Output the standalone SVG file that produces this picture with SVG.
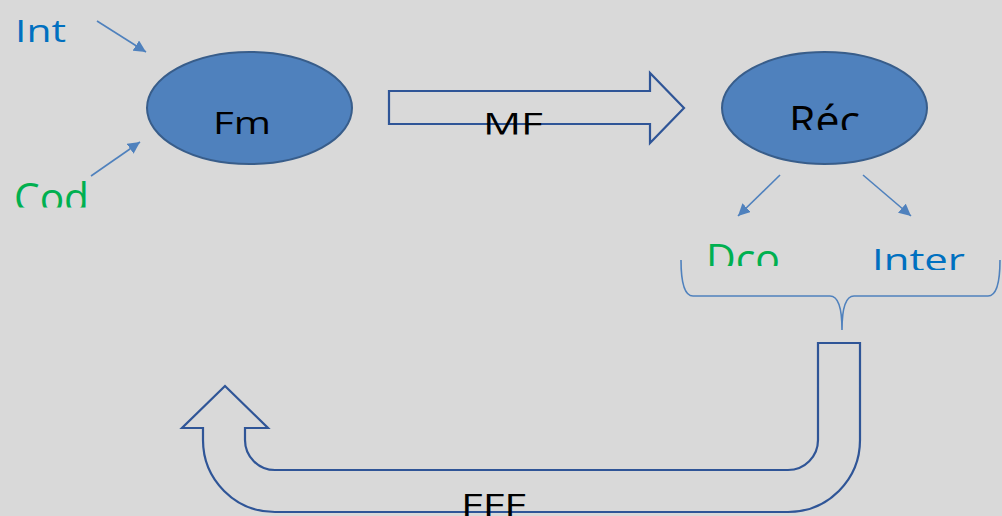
<svg xmlns="http://www.w3.org/2000/svg" width="1002" height="516" viewBox="0 0 1002 516">
<style>
.bg{fill:#d9d9d9}
.ell{fill:#4f81bd;stroke:#385d8a;stroke-width:2}
.blk{fill:none;stroke:#2f5597;stroke-width:2.2;stroke-linejoin:miter}
.con{stroke:#4f81bd;stroke-width:1.6;fill:none}
.brace{stroke:#4f81bd;stroke-width:1.6;fill:none}
text{font-family:"Open Sans","Noto Sans","Liberation Sans",sans-serif;font-size:31px}
.big{font-size:40px}
.k{fill:#000}
.b{fill:#0070c0}
.g{fill:#00b050}
</style>
<defs>
<marker id="ah" viewBox="0 0 10 10" refX="10" refY="5" markerWidth="12" markerHeight="12" markerUnits="userSpaceOnUse" orient="auto">
<path d="M0,0 L10,5 L0,10 Z" fill="#4f81bd"/>
</marker>
<clipPath id="cCod"><rect x="0" y="160" width="120" height="47.5"/></clipPath>
<clipPath id="cMF"><rect x="470" y="100" width="90" height="34.5"/></clipPath>
<clipPath id="cRec"><rect x="770" y="85" width="110" height="45"/></clipPath>
<clipPath id="cDco"><rect x="690" y="225" width="110" height="41"/></clipPath>
<clipPath id="cInter"><rect x="860" y="230" width="120" height="40"/></clipPath>
</defs>
<rect class="bg" x="0" y="0" width="1002" height="516"/>
<g id="connectors">
<line class="con" x1="97" y1="21" x2="146" y2="52" marker-end="url(#ah)"/>
<line class="con" x1="91" y1="176" x2="140" y2="142" marker-end="url(#ah)"/>
<line class="con" x1="780" y1="175" x2="738" y2="216" marker-end="url(#ah)"/>
<line class="con" x1="863" y1="175" x2="911" y2="216" marker-end="url(#ah)"/>
<path class="brace" d="M681,260 Q681,296 693,296 L830,296 Q842,296 842,330 Q842,296 854,296 L988,296 Q1000,296 1000,260"/>
</g>
<g id="node-int"><text class="b" x="15" y="42" textLength="51" lengthAdjust="spacingAndGlyphs">Int</text></g>
<g id="node-cod"><text class="g big" clip-path="url(#cCod)" x="14" y="212" textLength="75" lengthAdjust="spacingAndGlyphs">Cod</text></g>
<g id="node-fm">
<ellipse class="ell" cx="249.5" cy="108" rx="102.5" ry="56"/>
<text class="k" x="213" y="134" textLength="58" lengthAdjust="spacingAndGlyphs">Fm</text>
</g>
<g id="node-mf">
<path class="blk" d="M389,91 L650,91 L650,73 L684,108 L650,143 L650,124 L389,124 Z"/>
<text class="k" clip-path="url(#cMF)" x="483" y="135" textLength="60" lengthAdjust="spacingAndGlyphs">MF</text>
</g>
<g id="node-rec">
<ellipse class="ell" cx="824.5" cy="108" rx="102.5" ry="56"/>
<text class="k big" clip-path="url(#cRec)" x="789" y="135" textLength="71" lengthAdjust="spacingAndGlyphs">Réc</text>
</g>
<g id="node-dco"><text class="g big" clip-path="url(#cDco)" x="706" y="273" textLength="74" lengthAdjust="spacingAndGlyphs">Dco</text></g>
<g id="node-inter"><text class="b" clip-path="url(#cInter)" x="872" y="271" textLength="93" lengthAdjust="spacingAndGlyphs">Inter</text></g>
<g id="node-fff">
<path class="blk" d="M225,386 L268,428 L245,428 L245,440 A30,30 0 0 0 275,470 L788,470 A30,30 0 0 0 818,440 L818,343 L860,343 L860,440 A72,72 0 0 1 788,512 L275,512 A72,72 0 0 1 203,440 L203,428 L182,428 Z"/>
<text class="k" x="461" y="516" textLength="65" lengthAdjust="spacingAndGlyphs">FFF</text>
</g>
</svg>
